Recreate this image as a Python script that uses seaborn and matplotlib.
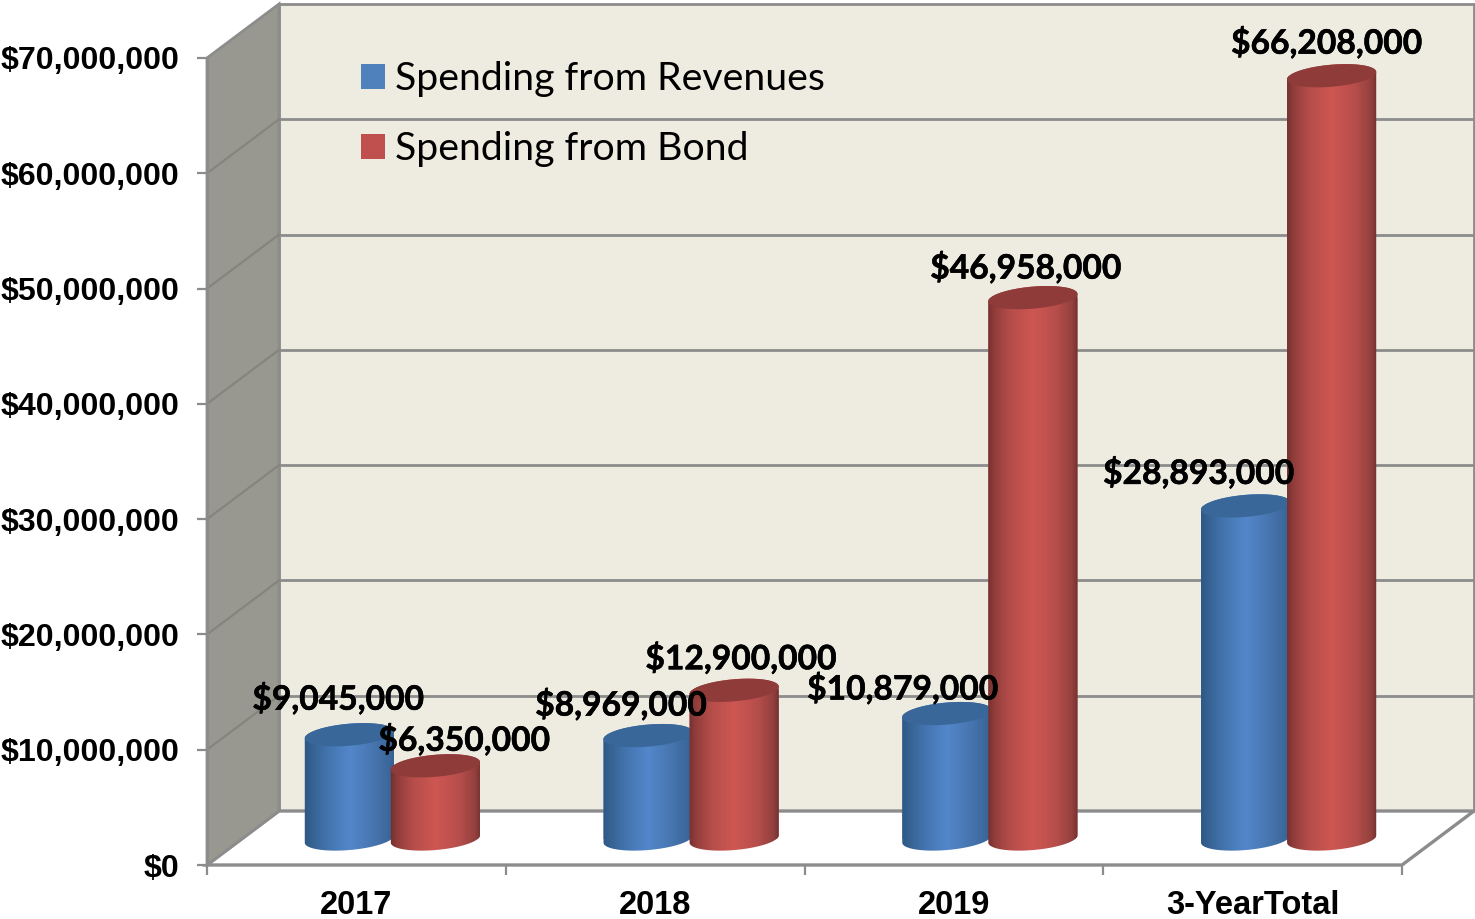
import numpy as np
import pandas as pd
import seaborn as sns
import matplotlib
matplotlib.use("Agg")
import matplotlib.pyplot as plt
import matplotlib.patheffects as pe
from matplotlib.patches import Polygon, Rectangle
from matplotlib.transforms import Affine2D, IdentityTransform
from matplotlib.colors import LinearSegmentedColormap

# Spending figures by period
periods = ["2017", "2018", "2019", "3-YearTotal"]
from_revenues = [9045000, 8969000, 10879000, 28893000]
from_bond = [6350000, 12900000, 46958000, 66208000]
series_names = ["Spending from Revenues", "Spending from Bond"]
y_ticks = [0, 10000000, 20000000, 30000000, 40000000, 50000000, 60000000, 70000000]

df = pd.DataFrame({
    "period": periods * 2,
    "amount": from_revenues + from_bond,
    "source": [series_names[0]] * 4 + [series_names[1]] * 4,
})

# Canvas and 3-D box geometry, in pixels
W, H = 1475, 919
LEFT, RIGHT, BASE, TOP = 207, 1402, 865, 58
WALL_DX, WALL_DY = 72, 54
BAR_DX, BAR_DY = 36, 26
ELL_B, TILT = 11, np.deg2rad(5)

WALL = "#EEECE1"
SIDE = "#989890"
LINE = "#8C8C8C"

sns.set_theme(style="white")
fig = plt.figure(figsize=(W / 100, H / 100), dpi=100, facecolor="white")
ax = fig.add_axes([LEFT / W, 1 - BASE / H, (RIGHT - LEFT) / W, (BASE - TOP) / H])
ax.patch.set_visible(False)

sns.barplot(
    data=df, x="period", y="amount", hue="source", hue_order=series_names,
    palette=["#4F81BD", "#C0504D"], width=0.576, gap=-0.04, saturation=1,
    ax=ax, zorder=5,
)
handles, labels = ax.get_legend_handles_labels()
ax.set_xlim(-0.5, 3.5)
ax.set_ylim(0, 70000000)
ax.set_xlabel("")
ax.set_ylabel("")
for s in ax.spines.values():
    s.set_visible(False)

to_back = ax.transData + Affine2D().translate(WALL_DX, WALL_DY)
to_bar = ax.transData + Affine2D().translate(BAR_DX, BAR_DY)
pix = IdentityTransform()


def disp(x, y):
    return ax.transData.transform((x, y))


# Box: back wall, floor and side wall
ax.add_patch(Rectangle((-0.5, 0), 4, 70000000, transform=to_back, fc=WALL,
                       ec=LINE, lw=2, zorder=1, clip_on=False))
p00, p01 = disp(-0.5, 0), disp(-0.5, 70000000)
p10 = disp(3.5, 0)
shift = np.array([WALL_DX, WALL_DY])
ax.add_patch(Polygon([p00, p00 + shift, p10 + shift, p10], transform=pix, fc="white",
                     ec=LINE, lw=2.4, zorder=2, clip_on=False, joinstyle="miter"))
ax.add_patch(Polygon([p00, p01, p01 + shift, p00 + shift], transform=pix, fc=SIDE,
                     ec=LINE, lw=2, zorder=2.1, clip_on=False))

# Gridlines run along the back wall and slant down the side wall
for v in y_ticks[1:-1]:
    ax.plot([-0.5, 3.5], [v, v], transform=to_back, color=LINE, lw=2, zorder=1.5,
            clip_on=False)
    a = disp(-0.5, v)
    ax.plot([a[0], a[0] + WALL_DX], [a[1], a[1] + WALL_DY], transform=pix, color="#85857D",
            lw=1.6, zorder=2.2, clip_on=False)
ax.plot([-0.5, -0.5], [0, 70000000], color=LINE, lw=2, zorder=2.3, clip_on=False)

# Ticks
ax.set_yticks(y_ticks)
ax.set_yticklabels([f"${v:,.0f}" for v in y_ticks], fontfamily="Liberation Sans",
                   fontweight="bold", fontsize=23.1, color="black", va="center_baseline")
ax.set_xticks(range(4))
ax.set_xticklabels(periods, fontfamily="Liberation Sans", fontweight="bold", fontsize=23.5,
                   color="black")
ax.set_xticks(np.arange(-0.5, 4), minor=True)
ax.tick_params(axis="y", left=True, length=7.2, width=1.6, color=LINE, pad=12.5)
ax.tick_params(axis="x", which="major", bottom=False, pad=12)
ax.tick_params(axis="x", which="minor", bottom=True, length=7.2, width=1.6, color=LINE)


def ellipse(cx, cy, a):
    t = np.linspace(0, 2 * np.pi, 181)[:-1]
    x = cx + a * np.cos(t) * np.cos(TILT) - ELL_B * np.sin(t) * np.sin(TILT)
    y = cy + a * np.cos(t) * np.sin(TILT) + ELL_B * np.sin(t) * np.cos(TILT)
    return np.column_stack([x, y])


body_maps = [
    LinearSegmentedColormap.from_list("blue_body", [
        (0, "#2C5582"), (0.08, "#34608F"), (0.25, "#4273AC"), (0.5, "#5387CB"),
        (0.75, "#4775AF"), (0.93, "#3A6699"), (1, "#2F5A8A")]),
    LinearSegmentedColormap.from_list("red_body", [
        (0, "#6A2D2C"), (0.08, "#8E3C3A"), (0.25, "#B44D4A"), (0.5, "#CE5752"),
        (0.75, "#B64E4B"), (0.92, "#93403E"), (1, "#662B2A")]),
]
cap_colors = ["#3A6799", "#8F3B3A"]
ramp = np.linspace(0, 1, 256).reshape(1, -1)

# Each bar becomes a cylinder built from its own position and height
for s, container in enumerate(ax.containers):
    for bar in container:
        bar.set_transform(to_bar)
        bar.set_linewidth(0)
        z = 5 + s
        bx, bw, bh = bar.get_x(), bar.get_width(), bar.get_height()
        x0, yb = to_bar.transform((bx, 0))
        x1, yt = to_bar.transform((bx + bw, bh))
        cx, a = (x0 + x1) / 2, (x1 - x0) / 2
        low, up = ellipse(cx, yb, a), ellipse(cx, yt, a)
        i_l, i_r = low[:, 0].argmin(), low[:, 0].argmax()
        lower = np.roll(low, -i_l, axis=0)[: (i_r - i_l) % len(low) + 1]
        upper = np.roll(up, -i_r, axis=0)[: (i_l - i_r) % len(up) + 1]
        outline = Polygon(np.vstack([lower, upper]), closed=True, transform=pix,
                          fc="none", ec="none")
        ax.add_patch(outline)
        outline.set_clip_on(False)
        bar.set_clip_path(outline)
        im = ax.imshow(ramp, cmap=body_maps[s], aspect="auto", zorder=z + 0.1,
                       extent=(x0 - 2, x1 + 2, yb - 30, yt + 30), interpolation="bilinear")
        im.set_transform(pix)
        im.set_clip_path(outline)
        ax.add_patch(Polygon(up, closed=True, transform=pix, fc=cap_colors[s],
                             ec="none", zorder=z + 0.2, clip_on=False))
ax.set_xlim(-0.5, 3.5)
ax.set_ylim(0, 70000000)

# Value labels, nudged by hand so they clear neighbouring columns
label_nudges = [
    [(-11, 36), (-27, 31), (-44, 25), (-47, 33)],
    [(29, 26), (7, 32), (-7, 30), (-5, 33)],
]
heavy = [pe.withStroke(linewidth=0.4, foreground="black")]
for s, container in enumerate(ax.containers):
    for bar, nudge in zip(container, label_nudges[s]):
        xc = bar.get_x() + bar.get_width() / 2
        base = to_bar.transform((xc, bar.get_height()))
        ax.annotate(f"${bar.get_height():,.0f}", xy=base, xycoords="figure pixels",
                    xytext=nudge, textcoords="offset pixels", ha="center", va="center",
                    fontfamily="Lato", fontweight="bold", fontsize=24.2, color="black",
                    zorder=20, annotation_clip=False, path_effects=heavy)

for h in handles:
    h.set_edgecolor("none")
    h.set_linewidth(0)
leg = ax.legend(handles, labels, loc="upper left", bbox_to_anchor=(361 / W, 1 - 61 / H),
                bbox_transform=fig.transFigure, frameon=False,
                prop={"family": "Lato", "size": 28.3}, labelcolor="black",
                handlelength=0.61, handleheight=0.61, handletextpad=0.26,
                labelspacing=0.87, borderpad=0, borderaxespad=0)
leg.set_zorder(15)

fig.savefig("out.png", dpi=100, facecolor="white")
